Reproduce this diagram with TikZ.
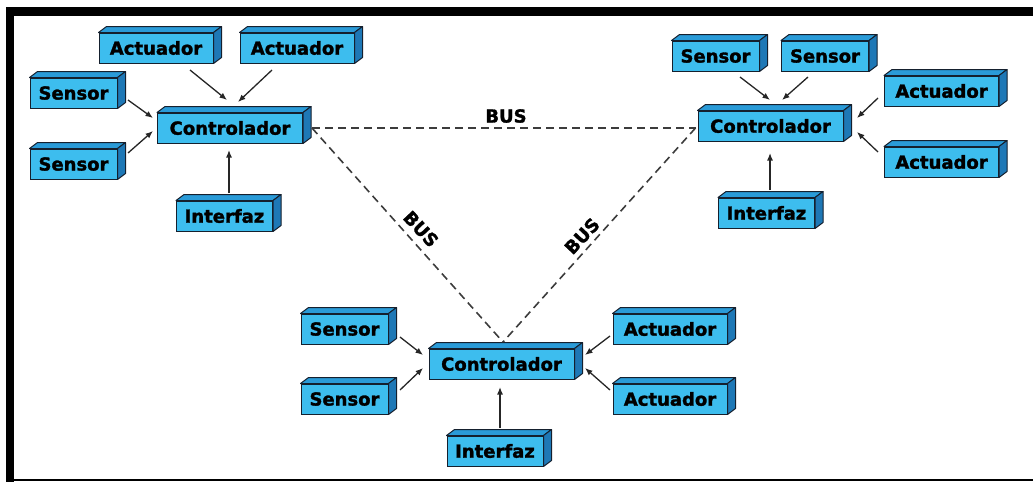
\documentclass[tikz,border=0pt]{standalone}
\usepackage{fontspec}
\setmainfont{DejaVu Sans}[BoldFeatures={FakeBold=1.6}]
\usetikzlibrary{arrows.meta}
\definecolor{frontc}{HTML}{3DBDEE}
\definecolor{topc}{HTML}{2A9BD8}
\definecolor{sidec}{HTML}{1E78B6}
\definecolor{boxline}{HTML}{15202E}
\definecolor{busc}{HTML}{3C3C3C}
\newcommand\cubefaces[1]{%
  \filldraw[draw=boxline,line width=1pt,fill=topc,line join=round] (#1.north west) -- ++(8,-6) -- ([shift={(8,-6)}]#1.north east) -- (#1.north east) -- cycle;
  \filldraw[draw=boxline,line width=1pt,fill=sidec,line join=round] (#1.north east) -- ++(8,-6) -- ([shift={(8,-6)}]#1.south east) -- (#1.south east) -- cycle;}
\begin{document}
\begin{tikzpicture}[x=1pt,y=-1pt,
  cube/.style={draw=boxline,line width=1pt,fill=frontc,inner sep=0pt,minimum height=30pt,
    font=\fontsize{18}{20}\selectfont\bfseries},
  wsen/.style={cube,minimum width=87pt},
  wact/.style={cube,minimum width=114pt},
  wint/.style={cube,minimum width=96pt},
  wcon/.style={cube,minimum width=145pt},
  arr/.style={draw=black!85,line width=1.3pt,-{Latex[length=7.5pt,width=6pt]}},
  bus/.style={draw=busc,line width=1.6pt,dash pattern=on 8pt off 5pt},
  buslabel/.style={font=\fontsize{18}{20}\selectfont\bfseries,inner sep=0pt}]
\useasboundingbox (0,0) rectangle (1033,482);
% frame
\fill[black] (6,7) rectangle (14,482);
\fill[black] (6,7) rectangle (1033,16);
\draw[black,line width=1.5pt] (14,480) -- (1033,480);
% cluster 1
\node[wact] (a1) at (156,48) {Actuador};
\node[wact] (a2) at (297,48) {Actuador};
\node[wsen] (s1) at (73.5,93) {Sensor};
\node[wsen] (s2) at (73.5,164) {Sensor};
\node[wcon] (c1) at (230,128) {Controlador};
\node[wint] (i1) at (224.5,216) {Interfaz};
% cluster 2
\node[wsen] (s3) at (715.5,56) {Sensor};
\node[wsen] (s4) at (825,56) {Sensor};
\node[wact] (a3) at (941.5,91) {Actuador};
\node[wact] (a4) at (941.5,162) {Actuador};
\node[wcon] (c2) at (770.5,126) {Controlador};
\node[wint] (i2) at (766.5,213) {Interfaz};
% cluster 3
\node[wsen] (s5) at (344.5,329) {Sensor};
\node[wsen] (s6) at (344.5,399) {Sensor};
\node[wcon] (c3) at (501.5,364) {Controlador};
\node[wact] (a5) at (670,329) {Actuador};
\node[wact] (a6) at (670,399) {Actuador};
\node[wint] (i3) at (495,451) {Interfaz};
\foreach \n in {a1,a2,s1,s2,c1,i1,s3,s4,a3,a4,c2,i2,s5,s6,c3,a5,a6,i3}{\cubefaces{\n}}
% arrows cluster 1
\draw[arr] ([shift={(34,22)}]a1.center) -- ([shift={(-3,-28)}]c1.center);
\draw[arr] ([shift={(-25,22)}]a2.center) -- ([shift={(8,-26)}]c1.center);
\draw[arr] ([shift={(54.5,7)}]s1.center) -- ([shift={(-77,-10)}]c1.center);
\draw[arr] ([shift={(54.5,-11)}]s2.center) -- ([shift={(-77,3)}]c1.center);
\draw[arr] ([shift={(4.5,-23)}]i1.center) -- ([shift={(-1,22)}]c1.center);
% arrows cluster 2
\draw[arr] ([shift={(24.5,21)}]s3.center) -- ([shift={(-0.5,-26)}]c2.center);
\draw[arr] ([shift={(-17,21)}]s4.center) -- ([shift={(11.5,-26)}]c2.center);
\draw[arr] ([shift={(-63.5,7)}]a3.center) -- ([shift={(86.5,-8)}]c2.center);
\draw[arr] ([shift={(-63.5,-10)}]a4.center) -- ([shift={(86.5,6)}]c2.center);
\draw[arr] ([shift={(3.5,-23)}]i2.center) -- ([shift={(-0.5,27)}]c2.center);
% arrows cluster 3
\draw[arr] ([shift={(55.5,8)}]s5.center) -- ([shift={(-78.5,-9)}]c3.center);
\draw[arr] ([shift={(55.5,-9)}]s6.center) -- ([shift={(-78.5,4)}]c3.center);
\draw[arr] ([shift={(-60,7)}]a5.center) -- ([shift={(83.5,-9)}]c3.center);
\draw[arr] ([shift={(-60,-9)}]a6.center) -- ([shift={(83.5,4)}]c3.center);
\draw[arr] ([shift={(5,-23)}]i3.center) -- ([shift={(-1.5,23)}]c3.center);
% bus
\coordinate (busA) at ([xshift=9pt]c1.east);
\coordinate (busB) at ([shift={(-2,2)}]c2.west);
\coordinate (busC) at ([shift={(1.5,-22)}]c3.center);
\draw[bus] (busA) -- (busB);
\draw[bus] (busA) -- (busC);
\draw[bus] (busB) -- (busC);
\node[buslabel] (bus1) at (506,116) {BUS};
\node[buslabel,rotate=-47] (bus2) at (421,229) {BUS};
\node[buslabel,rotate=47] (bus3) at (582,236) {BUS};
\end{tikzpicture}
\end{document}
